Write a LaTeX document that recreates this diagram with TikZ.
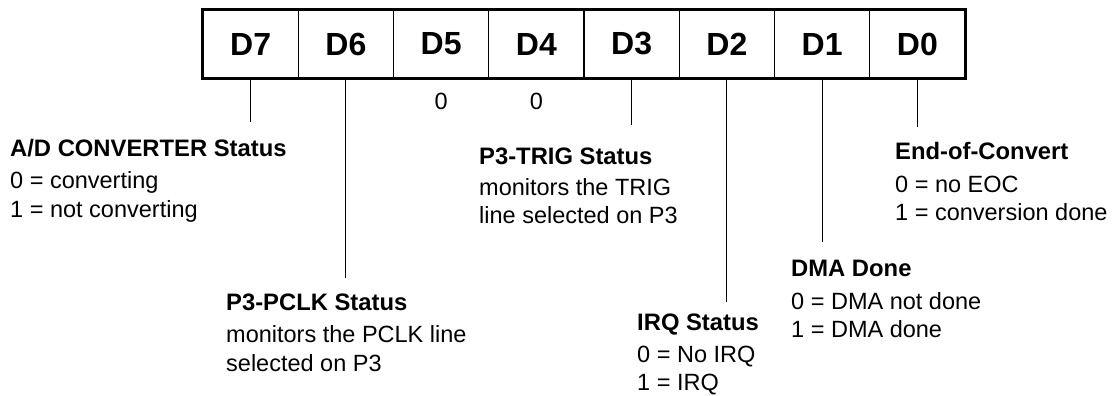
\documentclass[tikz,border=0pt]{standalone}
\usepackage{fontspec}
\setmainfont{Liberation Sans}
\begin{document}
\begin{tikzpicture}[x=1pt,y=-1pt,
  cell/.style={draw,line width=1.3pt,minimum width=95.25pt,minimum height=68pt,inner sep=0pt,
    font=\fontsize{32}{34}\selectfont\bfseries},
  tick/.style={line width=1.1pt},
  ttl/.style={anchor=base west,inner sep=0pt,font=\fontsize{23.8}{28}\selectfont\bfseries},
  body/.style={anchor=base west,inner sep=0pt,font=\fontsize{23.5}{28}\selectfont},
  zero/.style={inner sep=0pt,font=\fontsize{23.5}{28}\selectfont}]
\useasboundingbox (0,0) rectangle (1112,396);
% register cells
\foreach \i/\n in {0/7,1/6,2/5,3/4,4/3,5/2,6/1,7/0}{
  \node[cell] (c\n) at ({203+95.25*\i+47.625},44) {D\n};
}
\draw[line width=2.6pt] (c7.north west) rectangle (c0.south east);
% zeros
\node[zero] (z5) at (c5.south |- 0,101) {0};
\node[zero] (z4) at (c4.south |- 0,101) {0};
% tick ends
\coordinate (e7) at (c7.south |- 0,122);
\coordinate (e6) at (c6.south |- 0,278);
\coordinate (e3) at (c3.south |- 0,125);
\coordinate (e2) at (c2.south |- 0,302);
\coordinate (e1) at (c1.south |- 0,242);
\coordinate (e0) at (c0.south |- 0,127);
\foreach \n in {7,6,3,2,1,0}{ \draw[tick] (c\n.south) -- (e\n); }
% D7
\node[ttl] (t7) at (10,156) {A/D CONVERTER Status};
\node[body] (a7) at (10,188) {0 = converting};
\node[body] (b7) at (10,217) {1 = not converting};
% D6
\node[ttl] (t6) at (226,310) {P3-PCLK Status};
\node[body] (a6) at (226,342) {monitors the PCLK line};
\node[body] (b6) at (226,371) {selected on P3};
% D3
\node[ttl] (t3) at (479,164) {P3-TRIG Status};
\node[body] (a3) at (479,195) {monitors the TRIG};
\node[body] (b3) at (479,223) {line selected on P3};
% D2
\node[ttl] (t2) at (637,330) {IRQ Status};
\node[body] (a2) at (637,362) {0 = No IRQ};
\node[body] (b2) at (637,390) {1 = IRQ};
% D1
\node[ttl] (t1) at (791,276) {DMA Done};
\node[body] (a1) at (791,309) {0 = DMA not done};
\node[body] (b1) at (791,337) {1 = DMA done};
% D0
\node[ttl] (t0) at (895,159) {End-of-Convert};
\node[body] (a0) at (895,192) {0 = no EOC};
\node[body] (b0) at (895,220) {1 = conversion done};
\end{tikzpicture}
\end{document}
